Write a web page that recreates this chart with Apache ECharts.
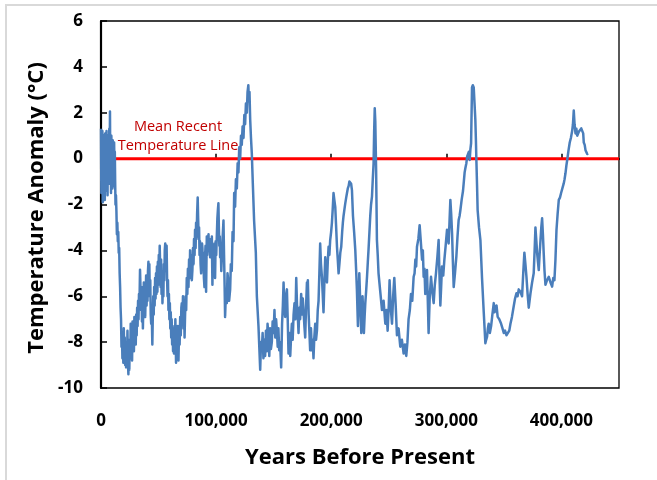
<!DOCTYPE html>
<html>
<head>
<meta charset="utf-8">
<script src="https://cdn.jsdelivr.net/npm/echarts@6/dist/echarts.min.js"></script>
<style>
html,body{margin:0;padding:0;background:#fff;}
#chart{width:657px;height:480px;}
</style>
</head>
<body>
<div id="chart"></div>
<script>
// Years before present (x) and temperature anomaly in °C (y)
const ageYears = [
  0,300,600,900,1200,1500,1800,2100,2400,2700,
  3000,3300,3600,3900,4200,4500,4800,5100,5400,5700,
  6000,6300,6600,6900,7200,7500,7800,8100,8400,8700,
  9000,9300,9600,9900,10200,10500,10800,11100,11400,11700,
  12000,12300,
  12600,13000,13400,13800,14200,14600,15000,15400,15800,16200,
  16600,17000,17400,17800,18200,18600,19000,19400,19800,20200,
  20600,21000,21400,21800,22200,22600,23000,23400,23800,24200,
  24600,25000,25400,25800,26200,26600,27000,27400,27800,28200,
  28600,29000,29400,29800,30200,30600,31000,31400,31800,32200,
  32600,33000,
  33400,33900,34400,34800,35200,35600,36000,36400,36800,37200,
  37600,38000,38400,38800,39200,39600,40000,40400,40800,41200,
  41600,42000,42400,42800,43200,43600,44000,44600,45000,45400,
  45800,46200,46600,47000,47400,47800,48200,48600,49000,49400,
  49800,50200,50600,51000,51400,51800,52200,52600,53000,53400,
  53800,54200,54600,55000,55400,55800,56200,56600,57000,57400,
  57800,58200,58600,59000,59400,59800,60200,60600,61000,61400,
  61800,62200,62600,63000,63400,63800,64200,
  64600,65200,65700,66200,66700,67300,67800,68300,68800,69300,
  69800,70200,70700,71200,71700,72200,72600,73000,73500,74000,
  74500,75000,75500,76000,76500,77000,77400,77900,78400,78900,
  79400,79900,80400,80800,81300,81700,82200,82600,83000,83500,
  84000,84400,84800,85200,85600,86000,86500,87000,87400,87800,
  88100,88500,88900,89400,89900,90300,90800,91300,91900,92300,
  92800,93400,93800,94300,94800,95300,95800,96300,96800,97300,
  97800,98200,98600,99100,99600,100100,100600,101100,101600,102000,
  102400,102800,103200,103500,104000,104500,105000,105500,106000,106400,
  106900,107400,107800,
  108400,109300,109900,110700,111300,112200,112800,113600,114300,115100,
  115700,116500,117200,118000,118700,119400,120100,120900,121600,122300,
  123000,123800,124500,125200,125900,126700,127300,128000,128500,129000,
  129600,130300,131000,131900,133000,134500,135400,136800,138300,
  139000,139700,140400,141100,141800,142600,143300,144000,144700,145500,
  146200,146900,147600,148400,149100,149900,150700,151400,152100,152800,
  153500,154100,154800,155600,156500,157300,158000,158600,159300,160000,
  160700,161500,162200,162900,163600,164400,165100,165800,166500,167300,
  168100,168900,169600,170300,171000,171600,172300,173000,173900,174600,
  175300,175900,176700,177400,178100,178900,179300,179700,180400,181000,
  181700,182400,183200,183900,184600,185300,186100,186800,187600,188300,
  189000,189700,190400,191100,191900,192600,193300,194000,194800,195500,
  196300,197000,197700,198400,199100,199900,200600,201300,202000,202700,
  203500,204200,205000,205700,206400,207100,207900,208700,209500,210100,
  210700,211500,212200,213000,213700,214400,215100,215800,216500,217300,
  218000,218900,219900,220900,221600,222300,223200,223800,224400,225300,
  226100,226600,227200,227800,228400,229000,229600,230300,231100,231800,
  232400,233200,233900,234600,235400,236100,236800,237300,237800,238300,
  239000,239700,240400,241100,242600,244100,245500,247000,248000,249000,
  250000,250700,251700,252800,253800,254800,256000,257100,258500,260000,
  261400,262900,264000,265200,266200,267200,268300,269300,270400,271600,
  272400,273100,273800,274500,275700,276800,277800,278900,279600,280300,
  281000,281700,282500,283200,283900,284600,285600,286700,287800,289000,
  290000,291000,292200,293300,294000,294800,295500,296200,297300,298300,
  299400,300600,301300,302000,302800,303500,304200,305000,305700,306400,
  307500,308700,309700,310700,311500,312200,313300,314500,315200,315900,
  316600,317400,318100,318900,319600,320300,320900,321500,322000,322300,
  323000,323800,324500,325200,325700,326100,326700,327200,328400,329600,
  331000,332500,333900,
  334600,335400,336100,336800,337800,338900,340000,341200,341900,342600,
  343600,344600,346000,347600,348800,349900,351000,352200,353700,354700,
  355700,357000,358500,359700,360900,361900,362900,364300,365800,366800,
  367800,368700,369600,370600,371600,372300,373100,374500,375900,376700,
  377400,378200,378900,379600,380300,381000,381800,382500,383200,383900,
  384600,385300,386100,387500,389000,390500,391900,392900,393900,394800,
  395700,396700,397700,398700,399700,400800,402000,402700,403500,404300,
  405000,406100,407200,408200,409300,410000,410700,411400,412200,413000,
  413700,415100,416200,417200,418300,418900,419400,420200,420900,421700,
  422400,423200
];
const tempAnomaly = [
  1.3,-1.5,1.1,-0.8,1.2,-1.9,0.9,-0.5,1.0,-1.2,
  0.6,-1.8,1.1,-0.3,0.8,-1.4,1.2,-0.9,0.5,-1.6,
  1.0,-0.4,0.7,-1.1,1.3,-0.6,2.05,-0.7,0.9,-1.5,
  1.0,-0.2,0.6,-1.3,0.8,-0.9,0.4,-1.2,0.7,-0.5,
  0.3,-1.0,
  -2.0,-1.6,-2.3,-3.3,-2.8,-3.6,-3.2,-4.1,-3.9,-5.0,
  -5.6,-6.5,-7.0,-8.2,-7.6,-8.7,-7.9,-8.9,-7.4,-8.5,
  -7.8,-9.0,-8.1,-9.1,-8.0,-8.8,-7.5,-8.9,-9.4,-8.4,
  -9.2,-7.9,-8.7,-7.2,-8.5,-7.6,-8.8,-7.1,-8.2,-7.4,
  -8.4,-6.9,-7.8,-7.0,-8.1,-6.8,-7.7,-6.5,-7.3,-6.2,
  -7.0,-5.9,
  -6.4,-4.85,-5.8,-6.6,-5.6,-7.1,-6.2,-7.4,-6.3,-5.4,
  -6.7,-5.7,-6.9,-5.9,-5.1,-6.4,-5.4,-6.2,-4.9,-4.5,
  -5.7,-4.6,-6.0,-5.3,-6.8,-7.2,-6.5,-8.1,-6.9,-6.0,
  -6.8,-5.6,-6.4,-5.2,-6.1,-5.0,-5.9,-4.7,-5.8,-4.5,
  -5.5,-4.2,-5.1,-3.8,-4.7,-5.6,-4.4,-5.9,-4.9,-6.3,
  -5.2,-6.0,-4.6,-5.3,-4.0,-3.7,-4.9,-4.1,-3.8,-5.2,
  -6.0,-5.3,-6.6,-5.9,-7.0,-6.3,-7.4,-6.7,-7.8,-7.0,
  -8.1,-7.3,-8.4,-7.6,-8.5,-7.4,-8.3,
  -7.0,-8.9,-7.6,-8.5,-7.3,-8.8,-7.5,-8.1,-6.9,-7.7,
  -6.5,-6.3,-7.2,-6.0,-7.4,-6.6,-7.8,-6.9,-6.0,-6.6,
  -5.2,-5.9,-4.8,-5.6,-4.4,-5.2,-4.0,-4.9,-4.2,-5.3,
  -4.86,-3.9,-4.6,-3.5,-4.2,-3.1,-3.9,-2.8,-3.5,-2.4,
  -1.7,-2.6,-3.4,-3.0,-4.2,-3.6,-4.6,-5.0,-4.2,-3.7,
  -3.9,-4.8,-4.1,-5.2,-5.6,-4.4,-3.8,-5.8,-3.4,-4.2,
  -3.7,-3.3,-4.0,-3.6,-4.3,-3.5,-4.1,-3.4,-5.5,-3.8,
  -4.6,-3.9,-3.7,-5.2,-3.6,-4.2,-3.4,-2.6,-2.2,-1.95,
  -3.0,-3.8,-3.4,-4.3,-3.7,-4.9,-4.86,-3.6,-3.1,-2.7,
  -4.2,-5.6,-6.9,
  -6.0,-6.3,-5.0,-5.4,-6.2,-5.7,-4.6,-4.9,-3.2,-3.6,
  -1.5,-2.1,-0.9,-1.3,-0.2,-0.6,0.5,0.0,1.0,0.6,
  1.4,0.9,1.9,1.5,2.4,2.0,2.9,3.2,2.5,2.9,
  1.7,0.9,0.24,-1.1,-2.7,-4.1,-6.0,-7.3,-9.2,
  -8.0,-8.35,-7.6,-8.7,-7.9,-8.6,-7.5,-8.4,-7.2,-7.8,
  -8.6,-7.4,-8.3,-8.0,-7.1,-7.6,-6.6,-7.8,-7.0,-7.5,
  -8.2,-7.4,-8.35,-8.0,-9.1,-7.2,-6.4,-5.4,-6.5,-6.9,
  -6.0,-5.7,-7.0,-8.5,-7.6,-8.6,-7.8,-7.2,-7.9,-6.8,
  -6.3,-7.0,-5.2,-6.4,-6.9,-7.6,-6.5,-7.0,-5.9,-6.8,
  -6.1,-6.6,-7.3,-7.8,-6.5,-5.4,-6.2,-5.3,-6.8,-7.5,
  -8.35,-7.4,-8.35,-7.9,-8.7,-7.8,-7.2,-7.9,-7.5,-6.6,
  -6.2,-5.0,-3.7,-4.6,-5.15,-5.9,-6.7,-5.5,-4.3,-4.9,
  -5.4,-4.5,-3.84,-4.2,-3.55,-3.2,-2.8,-2.2,-1.5,-1.8,
  -2.1,-2.9,-3.84,-4.4,-5.0,-4.6,-4.1,-3.84,-3.2,-2.8,
  -2.5,-2.2,-1.95,-1.7,-1.5,-1.3,-1.2,-1.0,-0.93,-1.1,
  -1.37,-2.5,-3.2,-3.98,-4.8,-5.7,-7.3,-6.2,-5.0,-6.4,
  -7.6,-6.9,-6.0,-6.8,-7.6,-6.9,-6.3,-5.8,-5.15,-4.5,
  -3.98,-3.2,-2.5,-2.0,-1.66,-0.9,-0.2,1.2,2.2,1.6,
  -0.5,-3.55,-4.2,-5.0,-5.8,-6.6,-6.2,-7.2,-6.6,-7.5,
  -6.4,-5.3,-6.5,-7.2,-6.0,-5.2,-6.4,-7.7,-7.4,-8.2,
  -7.9,-8.5,-8.1,-8.6,-8.0,-7.0,-6.6,-5.9,-6.2,-5.15,
  -5.0,-4.4,-4.7,-3.84,-3.5,-2.9,-3.6,-4.4,-4.0,-5.15,
  -4.8,-5.9,-5.2,-4.86,-6.2,-7.6,-6.0,-5.15,-5.8,-6.3,
  -5.5,-5.0,-4.3,-3.55,-5.0,-6.4,-5.6,-4.7,-5.1,-4.4,
  -3.8,-3.1,-3.3,-3.7,-2.7,-1.8,-2.4,-3.3,-4.5,-5.6,
  -5.0,-4.27,-3.4,-2.68,-2.5,-2.25,-1.8,-1.4,-1.0,-0.6,
  -0.4,-0.2,0.1,0.07,0.3,-0.06,0.4,0.67,2.2,3.1,
  3.2,3.1,2.4,1.7,0.8,-0.06,-1.2,-2.25,-3.0,-3.55,
  -5.2,-6.7,-8.05,
  -7.9,-7.76,-7.4,-7.2,-7.6,-7.3,-6.8,-6.3,-6.7,-6.6,
  -6.4,-6.9,-7.0,-7.2,-7.4,-7.6,-7.5,-7.7,-7.76,-7.5,
  -7.2,-6.9,-6.45,-6.1,-5.87,-6.0,-5.7,-5.8,-6.0,-5.0,
  -4.1,-4.6,-5.15,-5.9,-6.5,-6.2,-5.87,-5.4,-5.0,-4.0,
  -3.0,-3.6,-4.13,-4.5,-4.86,-4.2,-3.55,-3.0,-2.6,-3.3,
  -4.13,-4.9,-5.5,-5.3,-5.15,-5.4,-5.58,-5.2,-5.3,-4.4,
  -3.1,-2.4,-1.8,-1.7,-1.5,-1.3,-1.08,-0.9,-0.64,-0.3,
  -0.06,0.35,0.7,0.9,1.2,1.5,2.1,1.5,1.1,1.3,
  1.0,1.17,1.25,1.32,1.4,1.1,0.7,0.6,0.37,0.3,
  0.2,0.22
];
const recentMeanTemp = 0;           // "Mean Recent Temperature Line"
const xRange = [0, 450000];
const yRange = [-10, 6];
const xTickStep = 100000;
const yTickStep = 2;

if (ageYears.length !== tempAnomaly.length) {
  console.error('length mismatch', ageYears.length, tempAnomaly.length);
}
const seriesData = ageYears.map((a, i) => [a, tempAnomaly[i]]);
const meanLineData = [[xRange[0], recentMeanTemp], [xRange[1], recentMeanTemp]];

const FONT = '"Open Sans", sans-serif';
const chart = echarts.init(document.getElementById('chart'), null, {renderer: 'canvas'});
chart.setOption({
  backgroundColor: '#ffffff',
  animation: false,
  grid: {left: 101, right: 38, top: 21, bottom: 92, show: true, borderColor: '#000', borderWidth: 1.3, backgroundColor: 'transparent'},
  graphic: [
    {type: 'rect', silent: true, z: -1, shape: {x: 6, y: 5, width: 700, height: 520},
     style: {fill: 'none', stroke: '#d9d9d9', lineWidth: 2}},
    {type: 'text', silent: true, z: 20, x: 178, y: 117,
     style: {text: 'Mean Recent\nTemperature Line', fill: '#c00000', font: '14.5px "Open Sans", sans-serif', lineHeight: 19, align: 'center', verticalAlign: 'top'}},
    {type: 'text', silent: true, z: 20, x: 37, y: 208, rotation: Math.PI / 2,
     style: {text: 'Temperature Anomaly (°C)', fill: '#000', font: 'bold 22px "Open Sans", sans-serif', align: 'center', verticalAlign: 'middle'}}
  ],
  xAxis: {
    type: 'value', min: xRange[0], max: xRange[1], interval: xTickStep,
    name: 'Years Before Present', nameLocation: 'middle', nameGap: 59,
    nameTextStyle: {fontFamily: FONT, fontWeight: 'bold', fontSize: 22, color: '#000'},
    axisLine: {show: true, lineStyle: {color: '#000', width: 2.2}},
    axisTick: {show: true, inside: true, length: 5, lineStyle: {color: '#000', width: 1.5}},
    splitLine: {show: false},
    axisLabel: {margin: 25, showMaxLabel: false, fontFamily: FONT, fontWeight: 'bold', fontSize: 17, color: '#000',
      formatter: v => v.toLocaleString('en-US')}
  },
  yAxis: {
    type: 'value', min: yRange[0], max: yRange[1], interval: yTickStep,
    axisLine: {show: true, lineStyle: {color: '#000', width: 2.2}},
    axisTick: {show: true, inside: true, length: 6, lineStyle: {color: '#000', width: 1.5}},
    splitLine: {show: false},
    axisLabel: {margin: 18, fontFamily: FONT, fontWeight: 'bold', fontSize: 17, color: '#000'}
  },
  series: [
    {type: 'line', data: meanLineData, symbol: 'none', z: 2, silent: true,
     lineStyle: {color: '#ff0000', width: 3}},
    {type: 'line', data: seriesData, symbol: 'none', z: 5, silent: true,
     lineStyle: {color: '#4a7ebb', width: 2.5, join: 'round'}}
  ]
});
</script>
</body>
</html>
